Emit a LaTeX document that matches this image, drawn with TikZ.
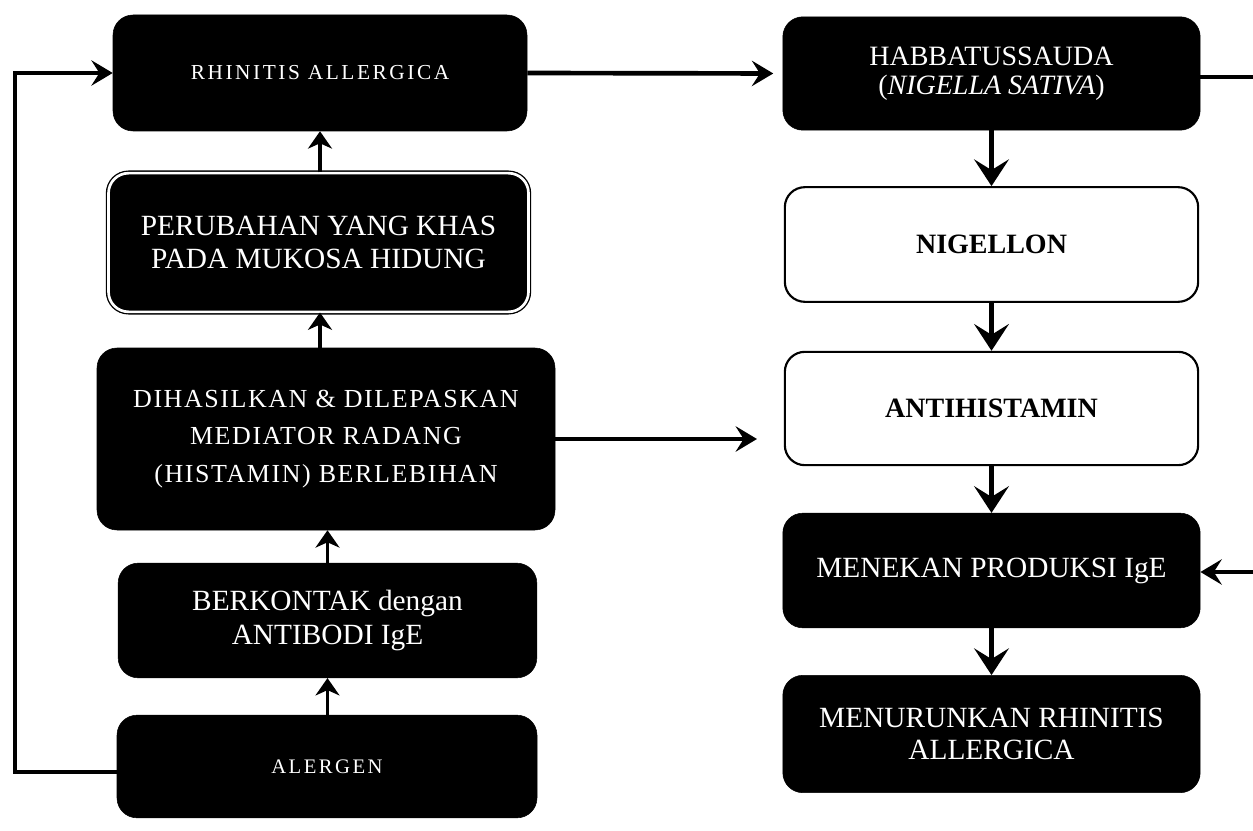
\documentclass[tikz,border=0pt]{standalone}
\usepackage{fontspec}
\setmainfont{Liberation Serif}
\usetikzlibrary{arrows.meta}
\tikzset{
  blk/.style={fill=black, draw=black, rounded corners=15pt, text=white, align=center, inner sep=0pt, font=\fontsize{22}{25}\selectfont},
  blkdbl/.style={blk, double=white, double distance=2pt, line width=1pt},
  wht/.style={fill=white, draw=black, line width=1.6pt, rounded corners=15pt, text=black, align=center, inner sep=0pt, font=\fontsize{21}{25}\selectfont\bfseries},
  conn/.style={line width=3.5pt, -{Stealth[length=16pt,width=19pt,inset=6pt]}},
  upar/.style={line width=2.5pt, -{Stealth[length=13pt,width=18pt,inset=4pt]}},
  dnar/.style={line width=4pt, -{Stealth[length=20pt,width=26pt,inset=8pt]}},
  plain/.style={line width=3.5pt}
}
\begin{document}
\begin{tikzpicture}[x=0.75pt,y=-0.75pt]
\useasboundingbox (0,0) rectangle (1253,831);
% left column
\node[blk, minimum width=310.5pt, minimum height=87pt, font=\fontsize{16}{19}\selectfont\addfontfeatures{LetterSpace=12}] (rh) at (320,73) {RHINITIS ALLERGICA};
\node[blkdbl, minimum width=315pt, minimum height=104pt] (pe) at (318.5,242.5) {PERUBAHAN YANG KHAS\\PADA MUKOSA HIDUNG};
\node[blk, minimum width=343.5pt, minimum height=136.5pt, font=\fontsize{19.5}{28}\selectfont\addfontfeatures{LetterSpace=6}] (di) at (326,439) {DIHASILKAN \& DILEPASKAN\\MEDIATOR RADANG\\(HISTAMIN) BERLEBIHAN};
\node[blk, minimum width=314pt, minimum height=86pt, font=\fontsize{22}{26}\selectfont] (be) at (327.5,620.5) {BERKONTAK dengan\\ANTIBODI IgE};
\node[blk, minimum width=315pt, minimum height=77pt, font=\fontsize{15.5}{18}\selectfont\addfontfeatures{LetterSpace=12}] (al) at (327,766.5) {ALERGEN};
% right column
\node[blk, minimum width=313pt, minimum height=85pt, font=\fontsize{21}{22}\selectfont] (ha) at (991.5,73.5) {HABBATUSSAUDA\\(\textit{NIGELLA SATIVA})};
\node[wht, minimum width=310pt, minimum height=86pt] (ni) at (991.5,244.5) {NIGELLON};
\node[wht, minimum width=310pt, minimum height=85pt] (an) at (991.5,408.5) {ANTIHISTAMIN};
\node[blk, minimum width=313pt, minimum height=86pt] (me) at (991.5,570.5) {MENEKAN PRODUKSI IgE};
\node[blk, minimum width=313pt, minimum height=88pt, font=\fontsize{22}{24}\selectfont] (mu) at (991.5,734) {MENURUNKAN RHINITIS\\ALLERGICA};
% coordinates
\coordinate (lb) at (15,772);
\coordinate (lt) at (15,73);
\coordinate (ae) at (757,439);
\coordinate (re1) at (1253,77);
\coordinate (re2) at (1253,572);
% connectors
\draw[conn] (al.west |- lb) -- (lb) -- (lt) -- (rh.west);
\draw[conn, shorten >=7pt] (rh.east) -- (ha.west);
\draw[plain] (ha.east |- re1) -- (re1);
\draw[conn] (re2) -- (me.east |- re2);
\draw[conn] (di.east) -- (ae);
\draw[upar] (rh.south |- pe.north) -- (rh.south);
\draw[upar] (rh.south |- di.north) -- (rh.south |- pe.south);
\draw[upar] (be.north) -- (be.north |- di.south);
\draw[upar] (be.north |- al.north) -- (be.south);
\draw[dnar] (ha.south) -- (ni.north);
\draw[dnar] (ni.south) -- (an.north);
\draw[dnar] (an.south) -- (me.north);
\draw[dnar] (me.south) -- (mu.north);
\end{tikzpicture}
\end{document}
